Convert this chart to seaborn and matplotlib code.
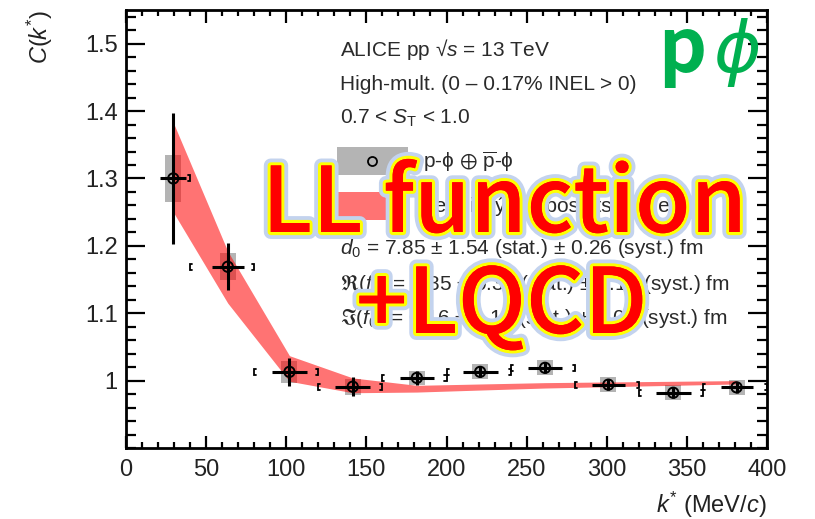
import numpy as np
import matplotlib
matplotlib.use("Agg")
import matplotlib.pyplot as plt
import matplotlib.patheffects as pe
from matplotlib.patches import Rectangle
from matplotlib.ticker import MultipleLocator, FixedLocator, FuncFormatter
import seaborn as sns
import pandas as pd

# ---------------- data ----------------
k_star = [29.5, 63.5, 102.0, 141.5, 181.5, 221.0, 261.5, 301.0, 341.5, 381.0]
k_err = [8.0, 10.0, 11.0, 11.0, 10.5, 11.0, 10.5, 10.5, 11.0, 10.0]
C_val = [1.300, 1.169, 1.013, 0.991, 1.004, 1.013, 1.019, 0.994, 0.982, 0.990]
C_stat = [0.097, 0.035, 0.021, 0.014, 0.010, 0.008, 0.008, 0.008, 0.008, 0.008]
C_syst = [0.035, 0.020, 0.016, 0.012, 0.011, 0.011, 0.011, 0.011, 0.011, 0.011]
k_syst = [5.0, 5.0, 5.0, 5.0, 5.0, 5.0, 5.0, 5.0, 5.0, 5.0]
bin_lo = [0, 40, 80, 120, 160, 200, 240, 280, 320, 360]
bin_hi = [40, 80, 120, 160, 200, 240, 280, 320, 360, 400]

band_k = [29.5, 63.5, 102.0, 141.5, 181.5, 221.0, 261.5, 301.0, 341.5, 381.0]
band_lo = [1.250, 1.115, 0.999, 0.982, 0.983, 0.986, 0.989, 0.991, 0.993, 0.995]
band_hi = [1.383, 1.192, 1.037, 1.004, 0.993, 0.995, 0.997, 0.998, 0.999, 1.000]

x_ticks = [0, 50, 100, 150, 200, 250, 300, 350, 400]
y_ticks = [1.0, 1.1, 1.2, 1.3, 1.4, 1.5]

df = pd.DataFrame({"k": k_star, "C": C_val})

# ---------------- style ----------------
sns.set_theme(style="ticks")
plt.rcParams["font.family"] = ["Liberation Sans", "DejaVu Sans"]
plt.rcParams["mathtext.fontset"] = "custom"
plt.rcParams["mathtext.rm"] = "Liberation Sans"
plt.rcParams["mathtext.it"] = "Liberation Sans:italic"
plt.rcParams["mathtext.bf"] = "Liberation Sans:bold"
plt.rcParams["mathtext.sf"] = "Liberation Sans"
plt.rcParams["mathtext.fallback"] = "stixsans"

W, H = 815, 519
fig = plt.figure(figsize=(W / 100, H / 100), dpi=100)
fig.patch.set_facecolor("white")

def fx(px):
    return px / W

def fy(py):
    return 1 - py / H

ax = fig.add_axes([fx(126), fy(448), (767 - 126) / W, (448 - 10) / H])
ax.set_facecolor("white")

# systematic boxes
ax.bar(df["k"], height=[2 * s for s in C_syst],
       bottom=[c - s for c, s in zip(C_val, C_syst)],
       width=[2 * s for s in k_syst], color="#b4b4b4", edgecolor="none", zorder=1)

# model band
ax.fill_between(band_k, band_lo, band_hi, color="#ff0000", alpha=0.55,
                linewidth=0, zorder=2)

# bracket markers at bin edges
h = 0.0045
d = 1.3
for lo, hi, c in zip(bin_lo, bin_hi, C_val):
    if lo > 0:
        ax.plot([lo + d, lo, lo, lo + d], [c - h, c - h, c + h, c + h],
                color="black", lw=1.3, zorder=3, solid_joinstyle="miter")
    ax.plot([hi - d, hi, hi, hi - d], [c - h, c - h, c + h, c + h],
            color="black", lw=1.3, zorder=3, solid_joinstyle="miter", clip_on=False)

# statistical error bars
ax.errorbar(k_star, C_val, xerr=k_err, yerr=C_stat, fmt="none",
            ecolor="black", elinewidth=2.2, capsize=0, zorder=4)

# open markers
sns.scatterplot(data=df, x="k", y="C", ax=ax, marker="o", s=55,
                facecolor="none", edgecolor="black", linewidth=1.4, zorder=5,
                legend=False)

# ---------------- axes ----------------
ax.set_xlim(0, 400)
ax.set_ylim(0.9, 1.55)
ax.set_xlabel("")
ax.set_ylabel("")
ax.xaxis.set_major_locator(FixedLocator(x_ticks))
ax.xaxis.set_minor_locator(MultipleLocator(10))
ax.yaxis.set_major_locator(FixedLocator(y_ticks))
ax.yaxis.set_minor_locator(MultipleLocator(0.02))
ax.yaxis.set_major_formatter(FuncFormatter(lambda v, p: "1" if abs(v - 1) < 1e-9 else f"{v:.1f}"))
for s in ax.spines.values():
    s.set_linewidth(2.0)
    s.set_color("black")
    s.set_visible(True)
ax.tick_params(axis="both", which="both", direction="in", top=True, right=True,
               color="black", width=1.6, labelcolor="#222222")
ax.tick_params(axis="x", which="major", length=9, pad=8, labelsize=17)
ax.tick_params(axis="x", which="minor", length=4)
ax.tick_params(axis="y", which="major", length=13.5, pad=6, labelsize=17)
ax.tick_params(axis="y", which="minor", length=7)

fig.text(fx(40), fy(10), r"$C$($k^{*}$)", rotation=90, ha="center", va="top",
         fontsize=17, color="#222222")
fig.text(fx(767), fy(505), r"$k^{*}$ (MeV/$c$)", ha="right", va="center",
         fontsize=17, color="#222222")

# ---------------- annotations ----------------
tc = "#2a2a2a"
fs = 15.0
fig.text(fx(340), fy(50), "ALICE pp \u221a$s$ = 13 TeV", ha="left", va="center", fontsize=fs, color=tc)
fig.text(fx(340), fy(85), "High-mult. (0 \u2013 0.17% INEL > 0)", ha="left", va="center", fontsize=fs, color=tc)
fig.text(fx(340), fy(118), r"0.7 < $S_{\mathrm{T}}$ < 1.0", ha="left", va="center", fontsize=fs, color=tc)
fig.text(fx(340), fy(249), r"$d_{0}$ = 7.85 $\pm$ 1.54 (stat.) $\pm$ 0.26 (syst.) fm", ha="left", va="center", fontsize=fs, color=tc)
fig.text(fx(340), fy(285), r"$\Re$($f_{0}$) = 0.85 $\pm$ 0.34 (stat.) $\pm$ 0.14 (syst.) fm", ha="left", va="center", fontsize=fs, color=tc)
fig.text(fx(340), fy(318), r"$\Im$($f_{0}$) = 0.16 $\pm$ 0.10 (stat.) $\pm$ 0.09 (syst.) fm", ha="left", va="center", fontsize=fs, color=tc)

# legend
fig.patches.append(Rectangle((fx(337), fy(175)), (408 - 337) / W, 28 / H,
                             transform=fig.transFigure, facecolor="#b4b4b4", edgecolor="none"))
fig.patches.append(Rectangle((fx(337), fy(220)), (408 - 337) / W, 28 / H,
                             transform=fig.transFigure, facecolor="#ff0000", alpha=0.55, edgecolor="none"))
fig.lines.append(plt.Line2D([fx(372)], [fy(161)], transform=fig.transFigure, marker="o",
                            markersize=6.5, markerfacecolor="none", markeredgecolor="black",
                            markeredgewidth=1.3, linestyle="none"))
fig.text(fx(423), fy(162), r"p-$\mathrm{\phi}$ $\oplus$ $\overline{\mathrm{p}}$-$\mathrm{\phi}$", ha="left", va="center",
         fontsize=fs, color=tc)
fig.text(fx(423), fy(206), "Lednick\u00fd-Lyuboshits model", ha="left", va="center", fontsize=fs, color=tc)

# overlay labels
big_fx = [pe.withStroke(linewidth=10, foreground="#c3d3ee"),
          pe.withStroke(linewidth=4.5, foreground="#ffff00"),
          pe.Normal()]
fig.text(fx(262), fy(232), "LL function", ha="left", va="baseline", fontsize=65,
         color="#ff0000", family=["Noto Sans CJK JP", "DejaVu Sans"], weight="medium",
         path_effects=big_fx)
fig.text(fx(356), fy(333), "+LQCD", ha="left", va="baseline", fontsize=65,
         color="#ff0000", family=["Noto Sans CJK JP", "DejaVu Sans"], weight="medium",
         path_effects=big_fx)

fig.text(fx(658), fy(72), "p", ha="left", va="baseline", fontsize=54,
         color="#00b050", family=["Noto Sans CJK JP", "DejaVu Sans"], weight="bold")
fig.text(fx(714), fy(72), "\u03d5", ha="left", va="baseline", fontsize=52,
         color="#00b050", family=["DejaVu Sans"], style="italic")

fig.savefig("out.png", dpi=100, facecolor="white")
